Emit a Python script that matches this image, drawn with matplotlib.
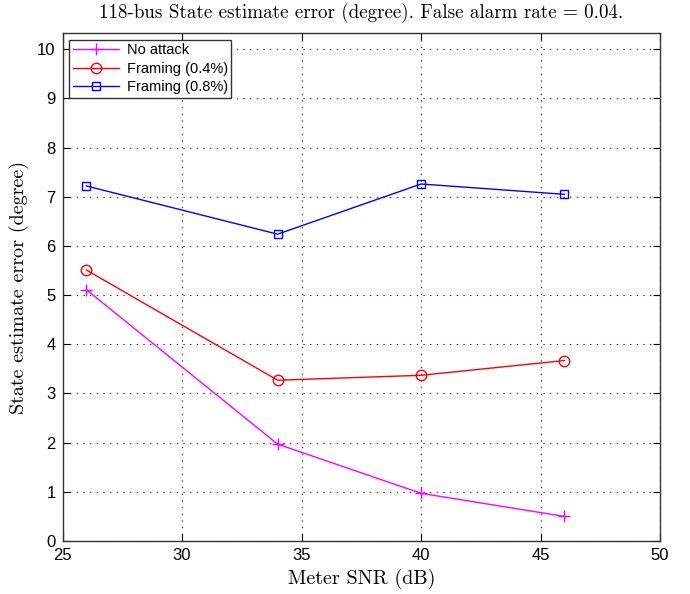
import matplotlib
matplotlib.use("Agg")
import matplotlib.pyplot as plt

snr = [26, 34, 40, 46]
no_attack = [5.11, 1.97, 0.97, 0.50]
framing_04 = [5.51, 3.27, 3.37, 3.67]
framing_08 = [7.22, 6.24, 7.26, 7.05]

xticks = [25, 30, 35, 40, 45, 50]
yticks = list(range(0, 11))

plt.rcParams['font.family'] = ['Liberation Sans', 'DejaVu Sans']

fig = plt.figure(figsize=(6.9, 5.94), dpi=100)
ax = fig.add_axes([0.0906, 0.0892, 0.866, 0.8552])

ax.plot(snr, no_attack, color='#ff00ff', marker='+', markersize=8, mew=1.0, lw=1.0, label='No attack')
ax.plot(snr, framing_04, color='#ff0000', marker='o', markersize=7.5, mfc='none', mew=1.0, lw=1.0, label='Framing (0.4%)')
ax.plot(snr, framing_08, color='#0000ff', marker='s', markersize=6, mfc='none', mew=1.0, lw=1.0, label='Framing (0.8%)')

ax.set_xlim(25, 50)
ax.set_ylim(0, 10.33)
ax.set_xticks(xticks)
ax.set_yticks(yticks)
ax.tick_params(direction='in', top=True, right=True, labelsize=12, length=5, width=0.8, pad=5)
ax.grid(True, linestyle=(0, (1, 5)), color='black', linewidth=0.8)
for s in ax.spines.values():
    s.set_linewidth(1.0)
    s.set_color('#333333')

ax.set_title('118-bus State estimate error (degree). False alarm rate = 0.04.',
             fontfamily='cmr10', fontsize=13.7, pad=11)
ax.set_xlabel('Meter SNR (dB)', fontfamily='cmr10', fontsize=14.5, labelpad=4)
ax.set_ylabel('State estimate error (degree)', fontfamily='cmr10', fontsize=14.5, labelpad=6)

leg = ax.legend(loc='upper left', fontsize=10.5, fancybox=False, framealpha=1,
                edgecolor='#333333', handlelength=3.2, borderaxespad=0.45,
                labelspacing=0.3, borderpad=0.25, handletextpad=0.5)
leg.get_frame().set_linewidth(1.0)

fig.savefig('out.png', dpi=100)
